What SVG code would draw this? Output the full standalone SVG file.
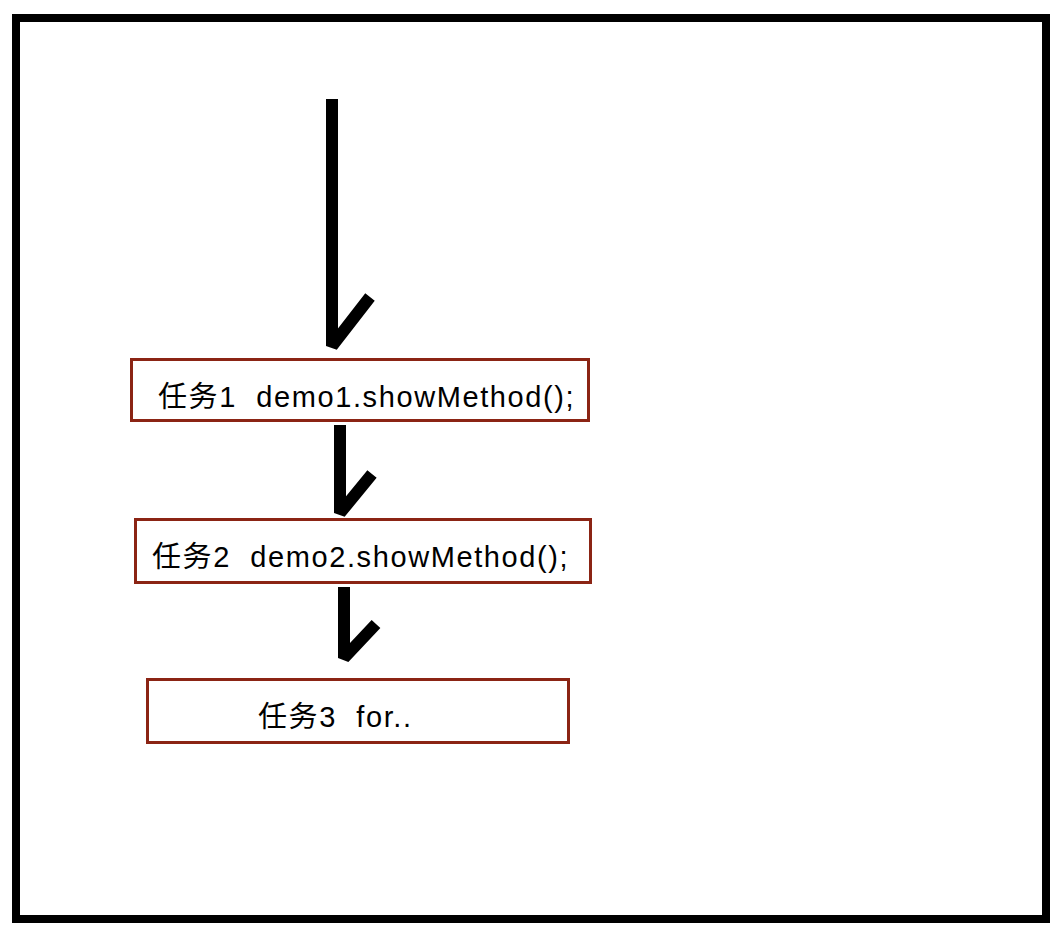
<svg xmlns="http://www.w3.org/2000/svg" width="1064" height="936" viewBox="0 0 1064 936">
<style>
.frame{fill:#fff;stroke:#000;stroke-width:8}
.box{fill:#fff;stroke:#8b2414;stroke-width:3}
.lbl{font-family:"Liberation Sans","Noto Sans CJK SC",sans-serif;font-size:29px;letter-spacing:1.6px;fill:#000}
.arrow{fill:none;stroke:#000;stroke-width:12;stroke-linejoin:bevel;stroke-linecap:butt}
</style>
<rect x="0" y="0" width="1064" height="936" fill="#fff"/>
<rect class="frame" x="16" y="18" width="1030" height="901"/>
<g id="connectors">
<polyline class="arrow" points="332,99 332,346 370,297"/>
<polyline class="arrow" points="340,425 340,513 372,474"/>
<polyline class="arrow" points="344,587 344,658 376,624"/>
</g>
<g id="task1">
<rect class="box" x="131.5" y="359.5" width="457" height="61"/>
<text class="lbl" x="158" y="407" xml:space="preserve">任务1  demo1.showMethod();</text>
</g>
<g id="task2">
<rect class="box" x="135.5" y="519.5" width="455" height="63"/>
<text class="lbl" x="152" y="567" xml:space="preserve">任务2  demo2.showMethod();</text>
</g>
<g id="task3">
<rect class="box" x="147.5" y="679.5" width="421" height="63"/>
<text class="lbl" x="258" y="727" xml:space="preserve">任务3  for..</text>
</g>
</svg>
